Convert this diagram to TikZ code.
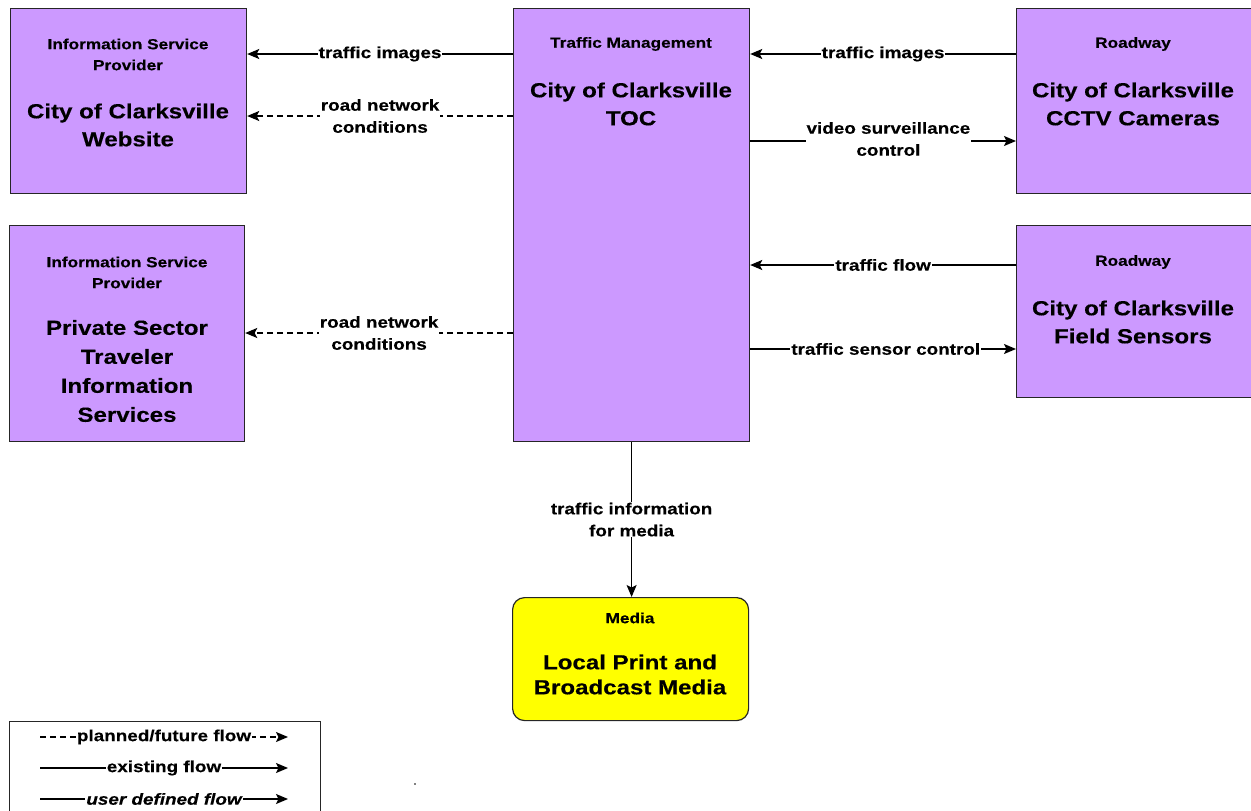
\documentclass[tikz,border=0pt]{standalone}
\usepackage{fontspec}
\setmainfont{Liberation Sans}[FakeStretch=1.18,FakeBold=0.3]
\usetikzlibrary{arrows.meta,calc}
\definecolor{purp}{HTML}{CC99FF}
\definecolor{yell}{HTML}{FFFF00}
\begin{document}
\begin{tikzpicture}[x=1pt,y=-1pt,
 box/.style={draw=black!85,line width=1.2pt,fill=purp,inner sep=0pt,anchor=north west},
 sm/.style={font=\fontsize{14.6}{21}\selectfont\bfseries,align=center,inner sep=0pt},
 bg/.style={font=\fontsize{20.4}{28}\selectfont\bfseries,align=center,inner sep=0pt},
 lab/.style={font=\fontsize{16}{22}\selectfont\bfseries,align=center,fill=white,inner sep=1pt},
 arr/.style={line width=1.4pt,-{Stealth[length=12pt,width=10pt,inset=2.5pt]}},
 fut/.style={arr,dash pattern=on 6pt off 4pt}]
\useasboundingbox (0,0) rectangle (1251,811);
% boxes
\node[box,minimum width=236pt,minimum height=185pt] (web) at (10,8) {};
\node[box,minimum width=235pt,minimum height=216pt] (priv) at (9,225) {};
\node[box,minimum width=236pt,minimum height=433pt] (toc) at (513,8) {};
\node[box,minimum width=236pt,minimum height=185pt] (cctv) at (1016,8) {};
\node[box,minimum width=236pt,minimum height=172pt] (field) at (1016,225) {};
\node[box,fill=yell,rounded corners=12pt,minimum width=236pt,minimum height=123pt] (media) at (512,597) {};
\node[box,fill=white,minimum width=311pt,minimum height=95pt] (legend) at (9,721) {};
% texts
\node[sm] (webs) at (128,54.5) {Information Service\\Provider};
\node[bg] (webb) at (128,125) {City of Clarksville\\Website};
\node[sm] (privs) at (127,272.5) {Information Service\\Provider};
\node[bg,font=\fontsize{20.4}{29}\selectfont\bfseries] (privb) at (127,371) {Private Sector\\Traveler\\Information\\Services};
\node[sm] (tocs) at (631,44) {Traffic Management};
\node[bg] (tocb) at (631,104) {City of Clarksville\\TOC};
\node[sm] (cctvs) at (1133,44) {Roadway};
\node[bg] (cctvb) at (1133,104) {City of Clarksville\\CCTV Cameras};
\node[sm] (fields) at (1133,262) {Roadway};
\node[bg] (fieldb) at (1133,322) {City of Clarksville\\Field Sensors};
\node[sm] (medias) at (630,618) {Media};
\node[bg,font=\fontsize{20.4}{25}\selectfont\bfseries] (mediab) at (630,674.5) {Local Print and\\Broadcast Media};
% connectors
\draw[arr] (toc.west |- 0,54) -- node[lab]{traffic images} (web.east |- 0,54);
\draw[fut] (toc.west |- 0,116) -- node[lab]{road network\\conditions} (web.east |- 0,116);
\draw[fut] (toc.west |- 0,333) -- node[lab]{road network\\conditions} (priv.east |- 0,333);
\draw[arr] (cctv.west |- 0,54) -- node[lab]{traffic images} (toc.east |- 0,54);
\draw[arr] (toc.east |- 0,141) -- node[lab,pos=0.52,yshift=2pt]{video surveillance\\control} (cctv.west |- 0,141);
\draw[arr] (field.west |- 0,265) -- node[lab]{traffic flow} (toc.east |- 0,265);
\draw[arr] (toc.east |- 0,349) -- node[lab,pos=0.51]{traffic sensor control} (field.west |- 0,349);
\draw[arr] (toc.south) -- node[lab]{traffic information\\for media} (toc.south |- media.north);
% legend
\coordinate (l1a) at (40,737); \coordinate (l1b) at (288,737);
\coordinate (l2a) at (40,768); \coordinate (l2b) at (288,768);
\coordinate (l3a) at (40,799); \coordinate (l3b) at (288,799);
\draw[fut] (l1a) -- node[lab]{planned/future flow} (l1b);
\draw[arr] (l2a) -- node[lab]{existing flow} (l2b);
\draw[arr] (l3a) -- node[lab,font=\fontsize{16}{22}\selectfont\bfseries\itshape]{user defined flow} (l3b);
\fill (415,784) circle (0.8);
\end{tikzpicture}
\end{document}
